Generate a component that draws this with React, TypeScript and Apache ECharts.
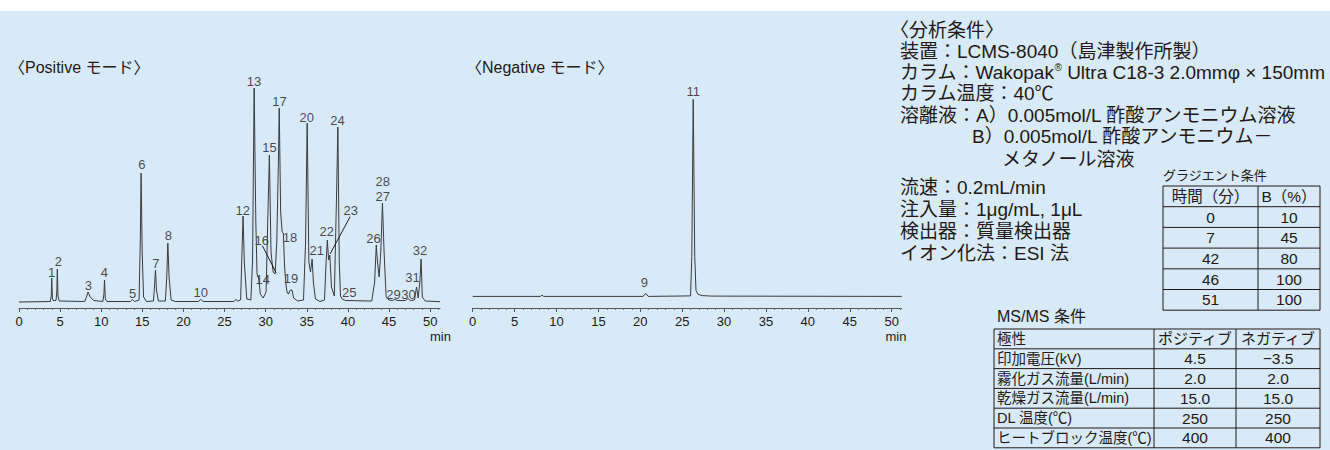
import React, { useEffect, useRef } from "react";
import * as echarts from "echarts";

const FONT = '"Liberation Sans", "Noto Sans CJK JP", sans-serif';
const INK = "#231815";
const BG = "#d8eaf8";

// x-axis tick labels (min)
const xTickValues = [0, 5, 10, 15, 20, 25, 30, 35, 40, 45, 50];

// Positive mode chromatogram trace: [time (min), relative intensity]
const positiveTrace: [number, number][] = [
  [0, 0], [3.8, 0.5], [3.92, 6], [3.98, 24], [4.06, 4], [4.15, 1.5], [4.5, 1.5], [4.6, 10], [4.66, 33], [4.74, 6], [4.9, 1],
  [8.0, 0.5], [8.25, 6], [8.4, 10], [8.65, 5], [9.1, 1.5], [10.2, 0.5], [10.33, 8], [10.4, 22], [10.5, 3], [10.7, 0.5],
  [13.55, 0.5], [13.8, 2.5], [14.05, 0.5], [14.6, 2], [14.75, 60], [14.85, 129], [14.98, 50], [15.15, 5], [15.5, 0.5],
  [16.35, 1], [16.5, 18], [16.6, 32], [16.72, 12], [16.95, 1], [17.8, 1], [17.97, 25], [18.1, 59], [18.25, 25], [18.5, 2], [19.0, 0.5],
  [21.8, 0.5], [22.1, 2.5], [22.4, 0.5], [26.1, 0.5], [26.4, 2.5], [26.6, 1],
  [26.95, 2], [27.12, 50], [27.25, 86], [27.4, 40], [27.7, 3], [28.2, 2], [28.4, 40], [28.6, 214], [28.8, 80], [28.95, 28],
  [29.15, 24], [29.35, 8], [29.7, 4], [30.05, 10], [30.25, 80], [30.45, 147], [30.65, 50], [30.9, 30], [31.15, 28],
  [31.35, 60], [31.55, 140], [31.65, 194], [31.82, 90], [32.0, 70], [32.15, 69], [32.3, 35], [32.5, 15], [32.6, 10],
  [32.75, 8], [33.0, 12], [33.2, 12], [33.4, 4], [33.9, 1], [34.6, 2], [34.85, 60], [35.05, 179], [35.25, 40], [35.45, 30],
  [35.65, 43], [35.8, 20], [36.05, 3], [36.6, 0.5], [37.15, 2], [37.35, 40], [37.5, 62], [37.65, 42], [37.8, 47], [38.0, 15],
  [38.35, 6], [38.6, 100], [38.78, 175], [38.95, 40], [39.1, 6], [39.3, 3], [39.7, 1.5], [42.9, 1], [43.25, 20], [43.45, 57],
  [43.6, 40], [43.8, 25], [44.0, 50], [44.2, 99], [44.4, 50], [44.65, 5], [45.0, 2], [45.4, 1.5], [45.7, 2.5], [46.0, 1.5],
  [47.0, 1.5], [47.3, 3.5], [47.6, 1.5], [48.1, 2], [48.35, 15], [48.55, 4], [48.75, 20], [48.9, 43], [49.05, 5], [49.4, 1],
  [51.2, 0.3],
];

// Negative mode chromatogram trace
const negativeTrace: [number, number][] = [
  [0, 0], [8.1, 0], [8.27, 1.5], [8.45, 0], [20.35, 0], [20.65, 3], [20.95, 0], [26.0, 0.5], [26.15, 40], [26.32, 197],
  [26.5, 40], [26.65, 6], [26.9, 2], [27.4, 0.8], [28.5, 0.3], [51.2, 0],
];

// Peak numbers: [time, label height, text]
const positivePeakLabels: [number, number, string][] = [
  [3.98, 29.3, "1"], [4.78, 40.3, "2"], [8.43, 17, "3"], [10.38, 29.3, "4"], [13.83, 8.7, "5"], [14.93, 137.7, "6"],
  [16.63, 38.7, "7"], [18.16, 67, "8"], [22.1, 9.3, "10"], [27.21, 92, "12"], [28.59, 220.3, "13"], [29.65, 22.7, "14"],
  [30.45, 154.7, "15"], [29.53, 61.3, "16"], [31.67, 201, "17"], [32.97, 64.7, "18"], [33.09, 24, "19"], [35.0, 184.7, "20"],
  [36.22, 52, "21"], [37.43, 70.3, "22"], [40.35, 91.3, "23"], [38.72, 182, "24"], [40.15, 9.3, "25"], [43.1, 63.7, "26"],
  [44.25, 105.5, "27"], [44.25, 120.5, "28"], [45.54, 8, "29"], [47.36, 8, "30"], [47.85, 24.7, "31"], [48.78, 51.3, "32"],
];
const negativePeakLabels: [number, number, string][] = [
  [20.48, 14, "9"], [26.32, 205, "11"],
];
// Leader lines for peaks 16 and 23: [[t1, h1], [t2, h2]]
const positiveLeaders: [number, number][][] = [
  [[29.6, 56.3], [31.27, 29.3]],
  [[40.27, 85.3], [37.83, 48]],
];

const titles = ["〈Positive モード〉", "〈Negative モード〉"];
const conditionLines = [
  "〈分析条件〉",
  "装置：LCMS-8040（島津製作所製）",
  "カラム：Wakopak{sup|®} Ultra C18-3 2.0mmφ × 150mm",
  "カラム温度：40℃",
  "溶離液：A）0.005mol/L 酢酸アンモニウム溶液",
  "B）0.005mol/L 酢酸アンモニウム－",
  "メタノール溶液",
  "流速：0.2mL/min",
  "注入量：1μg/mL, 1μL",
  "検出器：質量検出器",
  "イオン化法：ESI 法",
];
const gradientTitle = "グラジエント条件";
const gradientHeader = ["時間（分）", "B（%）"];
const gradientTime = ["0", "7", "42", "46", "51"];
const gradientB = ["10", "45", "80", "100", "100"];
const msTitle = "MS/MS 条件";
const msHeader = ["極性", "ポジティブ", "ネガティブ"];
const msParams = ["印加電圧(kV)", "霧化ガス流量(L/min)", "乾燥ガス流量(L/min)", "DL 温度(℃)", "ヒートブロック温度(℃)"];
const msPositive = ["4.5", "2.0", "15.0", "250", "400"];
const msNegative = ["−3.5", "2.0", "15.0", "250", "400"];

// layout (pixel positions for the text block lines)
const conditionLayout: [number, number][] = [
  [890, 30], [900, 51], [900, 72], [900, 93.5], [900, 115], [972, 136.5], [1002, 159],
  [900, 187.5], [900, 209], [900, 231], [900, 253],
];

export default function App() {
  const ref = useRef<HTMLDivElement>(null);
  useEffect(() => {
    if (!ref.current) return;
    const chart = echarts.init(ref.current, null, { renderer: "svg" });

    const txt = (text: string, x: number, y: number, size: number, align = "left", extra: any = {}) => ({
      type: "text",
      x,
      y,
      silent: true,
      style: { text, fill: INK, fontSize: size, fontFamily: FONT, align, verticalAlign: "middle", ...extra },
    });
    const ln = (x1: number, y1: number, x2: number, y2: number, w = 1) => ({
      type: "line",
      silent: true,
      shape: { x1, y1, x2, y2 },
      style: { stroke: INK, lineWidth: w },
    });

    const g: any[] = [];
    g.push({ type: "rect", silent: true, shape: { x: 0, y: 0, width: 1330, height: 11 }, style: { fill: "#ffffff" } });
    g.push(txt(titles[0], 9, 67, 16));
    g.push(txt(titles[1], 466, 67, 16));
    g.push(txt("min", 440.5, 336.5, 13, "center"));
    g.push(txt("min", 896, 336, 13, "center"));

    conditionLines.forEach((s, i) => {
      const [x, y] = conditionLayout[i];
      g.push(
        txt(s, x, y, 19, "left", {
          rich: { sup: { fontSize: 10, verticalAlign: "top", fill: INK, fontFamily: FONT } },
        })
      );
    });

    // gradient table
    const gL = 1163, gM = 1258, gR = 1320, gT = 186, gH = 20.7;
    const gRows = gradientTime.length + 1;
    g.push(txt(gradientTitle, gL, 175, 13));
    g.push({
      type: "rect", silent: true,
      shape: { x: gL, y: gT, width: gR - gL, height: gH * gRows },
      style: { fill: "none", stroke: INK, lineWidth: 1 },
    });
    for (let i = 1; i < gRows; i++) g.push(ln(gL, gT + gH * i, gR, gT + gH * i));
    g.push(ln(gM, gT, gM, gT + gH * gRows));
    g.push(txt(gradientHeader[0], (gL + gM) / 2, gT + gH / 2, 15.5, "center"));
    g.push(txt(gradientHeader[1], (gM + gR) / 2, gT + gH / 2, 15.5, "center"));
    gradientTime.forEach((s, i) => {
      const cy = gT + gH * (i + 1.5);
      g.push(txt(s, (gL + gM) / 2, cy, 15.5, "center"));
      g.push(txt(gradientB[i], (gM + gR) / 2, cy, 15.5, "center"));
    });

    // MS/MS table
    const mL = 994, m1 = 1154, m2 = 1236, mR = 1320, mT = 329, mH = 19.8;
    const mRows = msParams.length + 1;
    g.push(txt(msTitle, 997, 316, 16));
    g.push({
      type: "rect", silent: true,
      shape: { x: mL, y: mT, width: mR - mL, height: mH * mRows },
      style: { fill: "none", stroke: INK, lineWidth: 1 },
    });
    for (let i = 1; i < mRows; i++) g.push(ln(mL, mT + mH * i, mR, mT + mH * i));
    g.push(ln(m1, mT, m1, mT + mH * mRows));
    g.push(ln(m2, mT, m2, mT + mH * mRows));
    g.push(txt(msHeader[0], mL + 3, mT + mH / 2, 14.5));
    g.push(txt(msHeader[1], (m1 + m2) / 2, mT + mH / 2, 15, "center"));
    g.push(txt(msHeader[2], (m2 + mR) / 2, mT + mH / 2, 15, "center"));
    msParams.forEach((s, i) => {
      const cy = mT + mH * (i + 1.5);
      g.push(txt(s, mL + 3, cy, 14.5));
      g.push(txt(msPositive[i], (m1 + m2) / 2, cy, 15.5, "center"));
      g.push(txt(msNegative[i], (m2 + mR) / 2, cy, 15.5, "center"));
    });

    const mkX = (gridIndex: number) => ({
      type: "value",
      gridIndex,
      min: 0,
      max: 51.2,
      interval: 5,
      axisLine: { show: true, onZero: false, lineStyle: { color: "#555", width: 1 } },
      axisTick: { show: true, length: 4, customValues: xTickValues, lineStyle: { color: "#555", width: 1 } },
      minorTick: { show: true, splitNumber: 5, length: 2, lineStyle: { color: "#666", width: 1 } },
      splitLine: { show: false },
      minorSplitLine: { show: false },
      axisLabel: {
        show: true,
        margin: 7,
        fontSize: 13,
        color: INK,
        fontFamily: FONT,
        customValues: xTickValues,
        formatter: (v: number) => (xTickValues.includes(v) ? String(v) : ""),
      },
    });

    const labelSeries = (xi: number, labels: [number, number, string][], leaders?: [number, number][][]) => ({
      type: "scatter",
      xAxisIndex: xi,
      yAxisIndex: xi,
      clip: false,
      symbolSize: 1,
      itemStyle: { color: "rgba(0,0,0,0)" },
      silent: true,
      data: labels.map(([t, h, s]) => ({ value: [t, h], name: s })),
      label: {
        show: true,
        position: "inside",
        formatter: "{b}",
        fontSize: 13,
        color: INK,
        fontFamily: FONT,
      },
      markLine: leaders
        ? {
            silent: true,
            symbol: ["none", "none"],
            label: { show: false },
            lineStyle: { color: INK, width: 1, type: "solid" },
            data: leaders.map(([a, b]) => [{ coord: a }, { coord: b }]),
          }
        : undefined,
    });

    const option: any = {
      animation: false,
      backgroundColor: BG,
      grid: [
        { left: 19, top: 88, width: 421, height: 220, outerBoundsMode: "none" },
        { left: 472.7, top: 88, width: 429, height: 220, outerBoundsMode: "none" },
      ],
      xAxis: [mkX(0), mkX(1)],
      yAxis: [
        { type: "value", gridIndex: 0, min: -6, max: 214, show: false },
        { type: "value", gridIndex: 1, min: -11.6, max: 208.4, show: false },
      ],
      series: [
        {
          type: "line",
          xAxisIndex: 0,
          yAxisIndex: 0,
          data: positiveTrace,
          showSymbol: false,
          symbol: "none",
          clip: false,
          silent: true,
          lineStyle: { color: "#3a3a3a", width: 1 },
        },
        labelSeries(0, positivePeakLabels, positiveLeaders),
        {
          type: "line",
          xAxisIndex: 1,
          yAxisIndex: 1,
          data: negativeTrace,
          showSymbol: false,
          symbol: "none",
          clip: false,
          silent: true,
          lineStyle: { color: "#3a3a3a", width: 1 },
        },
        labelSeries(1, negativePeakLabels),
      ],
      graphic: { elements: g },
    };
    chart.setOption(option);
    return () => chart.dispose();
  }, []);

  return <div ref={ref} style={{ position: "fixed", left: 0, top: 0, width: 1330, height: 450 }} />;
}
